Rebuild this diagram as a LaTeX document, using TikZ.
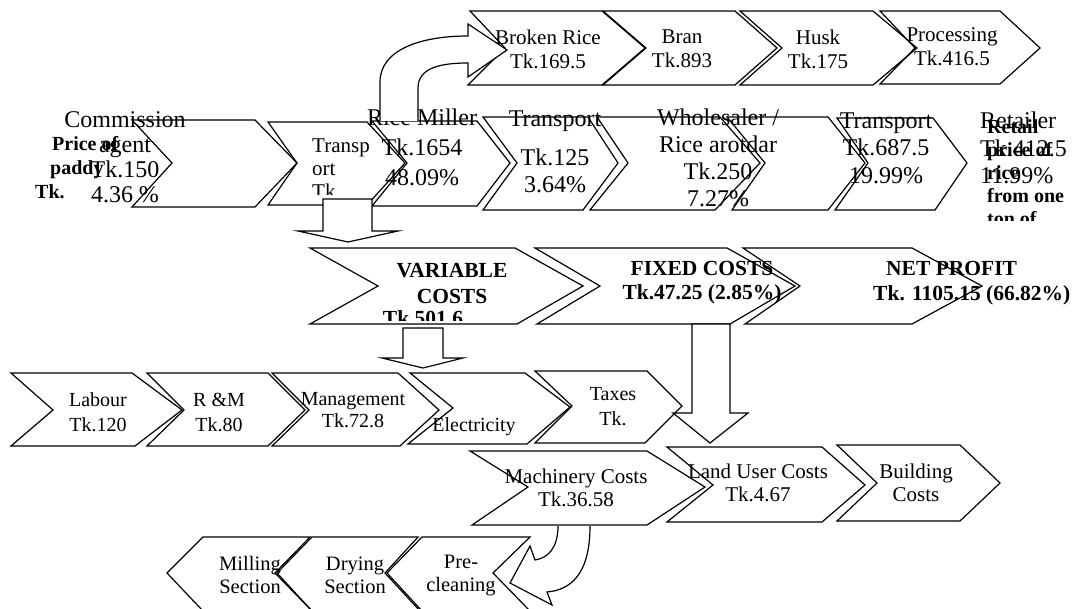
\documentclass[tikz,border=0pt]{standalone}
\usepackage{fontspec}
\setmainfont{Liberation Serif}
\begin{document}
\begin{tikzpicture}[x=1pt,y=-1pt,
  cv/.style={draw=black,line width=1.2pt,line join=miter},
  ar/.style={draw=black,fill=white,line width=1.2pt,line join=miter},
  tx/.style={inner sep=0pt,align=center},
  txl/.style={inner sep=0pt,align=left,anchor=west},
  fs/.style 2 args={font=\fontsize{#1}{#2}\selectfont},
  fb/.style 2 args={font=\bfseries\fontsize{#1}{#2}\selectfont}]
\useasboundingbox (0,0) rectangle (1075,609);

% ---------- top row ----------
\draw[cv] (470,11)--(602,11)--(645,48)--(602,85)--(468,85)--(505,48)--cycle;
\draw[cv] (603,11)--(735,11)--(777,48)--(735,85)--(603,85)--(646,48)--cycle;
\draw[cv] (740,11)--(873,11)--(917,48)--(873,85)--(740,85)--(782,48)--cycle;
\draw[cv] (880,11)--(1000,11)--(1040,48)--(1000,84)--(880,84)--(915,48)--cycle;
\node[tx,fs={21}{24}] (broken) at (548,49) {Broken Rice\\Tk.169.5};
\node[tx,fs={21}{24}] (bran) at (682,49) {Bran\\Tk.893};
\node[tx,fs={21}{24}] (husk) at (818,49) {Husk\\Tk.175};
\node[tx,fs={21}{24}] (proc) at (952,47) {Processing\\Tk.416.5};

% ---------- row 1 ----------
\draw[cv] (132,120)--(255,120)--(297,163)--(255,207)--(132,207)--(172,163)--cycle;
\draw[cv] (268,122)--(367,122)--(405,163)--(367,205)--(268,205)--(297,163)--cycle;
\draw[cv] (372,121)--(477,121)--(510,163)--(477,206)--(372,206)--(407,163)--cycle;
\draw[cv] (483,117)--(588,117)--(618,163)--(583,210)--(483,210)--(517,163)--cycle;
\draw[cv] (597,117)--(720,117)--(760,163)--(715,210)--(590,210)--(628,163)--cycle;
\draw[cv] (727,117)--(828,117)--(865,163)--(828,210)--(732,210)--(765,163)--cycle;
\draw[cv] (837,118)--(933,118)--(967,163)--(935,210)--(835,210)--(868,163)--cycle;

\node[tx,fs={24}{25}] (comm) at (125,157) {Commission\\agent\\Tk.150\\4.36 \%};
\node[txl,fb={20}{24}] (paddy) at (35,168) {\hspace*{17pt}Price of\\\hspace*{15pt}paddy\\Tk.};
\begin{scope}
  \clip (300,128) rectangle (385,195);
  \node[txl,fs={21}{23}] (transB) at (312,169) {Transp\\ort\\Tk};
\end{scope}
\node[tx,fs={24}{30}] (miller) at (422,147) {Rice Miller\\Tk.1654\\48.09\%};
\node[tx,fs={24}{27}] (transD) at (555,152) {Transport\\[12pt]Tk.125\\3.64\%};
\node[tx,fs={24}{27}] (whole) at (718,158) {Wholesaler /\\Rice arotdar\\Tk.250\\7.27\%};
\node[tx,fs={24}{27.5}] (transF) at (886,148) {Transport\\Tk.687.5\\19.99\%};
\node[txl,fs={24}{27.5}] (retailer) at (980,148) {Retailer\\Tk.412.5\\11.99\%};
\begin{scope}
  \clip (975,100) rectangle (1075,221);
  \node[txl,fb={20}{23}] (retail) at (987,173) {Retail\\price of\\rice\\from one\\ton of};
\end{scope}

% curved arrow to top row
\draw[ar] (380,121)--(380,82) .. controls (380,50) and (420,36) .. (468,36)
  --(468,24)--(507,50)--(468,77)--(468,63) .. controls (440,63) and (418,68) .. (418,88)--(418,121);

% down arrow from transport
\draw[ar] (323,199)--(372,199)--(372,231)--(398,231)--(348,242)--(298,231)--(323,231)--cycle;

% ---------- row 2 ----------
\draw[cv] (310,248)--(515,248)--(583,286)--(517,324)--(310,324)--(378,286)--cycle;
\draw[cv] (535,248)--(727,248)--(795,286)--(730,324)--(537,324)--(600,286)--cycle;
\draw[cv] (743,248)--(912,248)--(982,286)--(912,324)--(745,324)--(800,286)--cycle;
\node[tx,fb={21.5}{26}] (var) at (452,284) {VARIABLE\\COSTS};
\begin{scope}
  \clip (300,300) rectangle (600,320);
  \node[tx,fb={21.5}{24}] (varv) at (423,318) {Tk.501.6};
\end{scope}
\node[tx,fb={21.5}{24}] (fixed) at (702,283) {FIXED COSTS\\Tk.47.25 (2.85\%)};
\node[txl,fb={21.5}{25}] (net) at (873,283) {\hspace*{13pt}NET PROFIT\\Tk. 1105.15 (66.82\%)};

% down arrow from variable costs
\draw[ar] (403,328)--(443,328)--(443,358)--(463,358)--(423,368)--(382,358)--(403,358)--cycle;

% ---------- row 3 ----------
\draw[cv] (11,373)--(132,373)--(182,410)--(135,446)--(11,446)--(53,410)--cycle;
\draw[cv] (147,373)--(268,373)--(305,410)--(268,446)--(147,446)--(184,410)--cycle;
\draw[cv] (272,373)--(398,373)--(439,410)--(400,446)--(272,446)--(309,410)--cycle;
\draw[cv] (410,373)--(525,373)--(570,407)--(527,444)--(408,444)--(453,408)--cycle;
\draw[cv] (535,371)--(647,371)--(682,406)--(645,443)--(535,443)--(572,406)--cycle;
\node[tx,fs={20}{25}] (labour) at (98,412) {Labour\\Tk.120};
\node[tx,fs={20}{25}] (rm) at (219,412) {R \&M\\Tk.80};
\node[tx,fs={20}{22}] (mgmt) at (353,410) {Management\\Tk.72.8};
\node[tx,fs={20}{22}] (elec) at (474,427) {Electricity};
\node[tx,fs={20}{25}] (taxes) at (613,407) {Taxes\\Tk.};

% down arrow from fixed costs
\draw[ar] (692,324)--(730,324)--(730,413)--(748,413)--(710,443)--(673,413)--(692,413)--cycle;

% ---------- row 4 ----------
\draw[cv] (470,451)--(647,451)--(705,487)--(647,525)--(472,525)--(528,487)--cycle;
\draw[cv] (667,447)--(822,447)--(865,485)--(822,522)--(667,522)--(713,485)--cycle;
\draw[cv] (837,445)--(960,445)--(1000,483)--(960,521)--(837,521)--(877,483)--cycle;
\node[tx,fs={21}{23}] (mach) at (576,488) {Machinery Costs\\Tk.36.58};
\node[tx,fs={21}{23}] (land) at (758,483) {Land User Costs\\Tk.4.67};
\node[tx,fs={21}{23}] (build) at (916,483) {Building\\Costs};

% curved arrow down to sections
\draw[ar] (558,526) .. controls (558,548) and (548,558) .. (535,560)
  --(530,546)--(510,583)--(552,605)--(547,592) .. controls (570,590) and (590,575) .. (590,526);

% ---------- row 5 ----------
\begin{scope}
  \clip (0,0) rectangle (1075,609);
  \draw[cv] (167,573)--(203,537)--(310,537)--(275,573)--(312,611)--(203,611)--cycle;
  \draw[cv] (277,573)--(312,537)--(418,537)--(385,573)--(420,611)--(312,611)--cycle;
  \draw[cv] (387,573)--(422,537)--(530,537)--(493,573)--(530,611)--(422,611)--cycle;
\end{scope}
\node[tx,fs={20.5}{23}] (mill) at (250,575) {Milling\\Section};
\node[tx,fs={20.5}{23}] (dry) at (355,575) {Drying\\Section};
\node[tx,fs={20.5}{23}] (pre) at (461,575) {Pre-\\cleaning};
\end{tikzpicture}
\end{document}
